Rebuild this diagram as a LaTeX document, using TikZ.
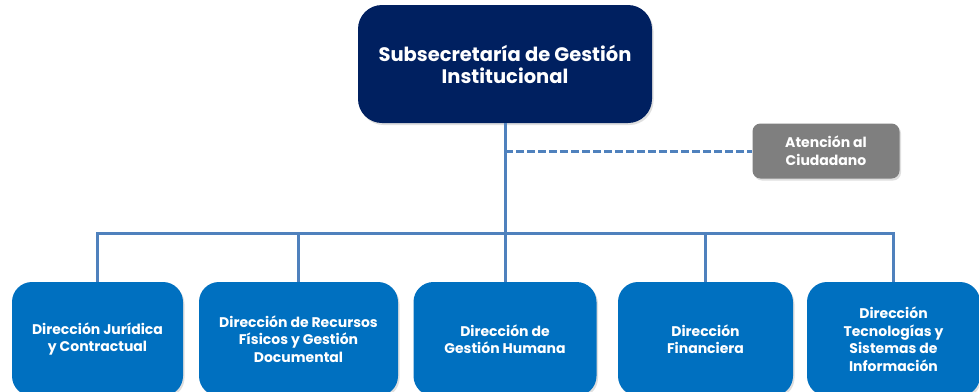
\documentclass[tikz,border=0pt]{standalone}
\usepackage{fontspec}
\setmainfont{Poppins}
\usetikzlibrary{shadows}
\definecolor{navy}{HTML}{002060}
\definecolor{blueb}{HTML}{0070C0}
\definecolor{grayb}{HTML}{7F7F7F}
\definecolor{linec}{HTML}{4F81BD}
\tikzset{
  boxbase/.style={draw=none, text=white, align=center, inner sep=0pt,
    drop shadow={opacity=0.25, shadow xshift=1.5pt, shadow yshift=-2pt}},
  topbox/.style={boxbase, fill=navy, rounded corners=24pt, minimum width=294pt, minimum height=118pt,
    font=\bfseries\fontsize{19.5}{22}\selectfont},
  grbox/.style={boxbase, fill=grayb, rounded corners=8pt, minimum width=147pt, minimum height=55pt,
    font=\bfseries\fontsize{14}{18}\selectfont},
  dirbox/.style={boxbase, fill=blueb, rounded corners=20pt, minimum height=114pt,
    font=\bfseries\fontsize{14}{17.5}\selectfont},
  conn/.style={draw=linec, line width=3pt},
  dashconn/.style={draw=linec, line width=3pt, dash pattern=on 7.5pt off 3.5pt}
}
\begin{document}
\begin{tikzpicture}[x=1pt,y=-1pt]
\useasboundingbox[fill=white] (0,0) rectangle (979,391);
\node[topbox] (top) at (505,64) {Subsecretaría de Gestión\\Institucional};
\node[grbox] (aten) at (826,151) {Atención al\\Ciudadano};
\node[dirbox, minimum width=171pt] (b1) at (97.5,339) {Dirección Jurídica\\y Contractual};
\node[dirbox, minimum width=199pt] (b2) at (298.5,339) {Dirección de Recursos\\Físicos y Gestión\\Documental};
\node[dirbox, minimum width=183pt] (b3) at (505,339) {Dirección de\\Gestión Humana};
\node[dirbox, minimum width=175pt] (b4) at (705.5,339) {Dirección\\Financiera};
\node[dirbox, minimum width=173pt] (b5) at (893.5,339) {Dirección\\Tecnologías y\\Sistemas de\\Información};
\coordinate (bus) at (505,233);
\path[dashconn] (top.south |- aten.west) -- (aten.west);
\path[conn] (top.south) -- (bus);
\path[conn] (b1.north) -- (b1.north |- bus) -- (b5.north |- bus) -- (b5.north);
\path[conn] (b2.north) -- (b2.north |- bus);
\path[conn] (b3.north) -- (b3.north |- bus);
\path[conn] (b4.north) -- (b4.north |- bus);
\end{tikzpicture}
\end{document}
